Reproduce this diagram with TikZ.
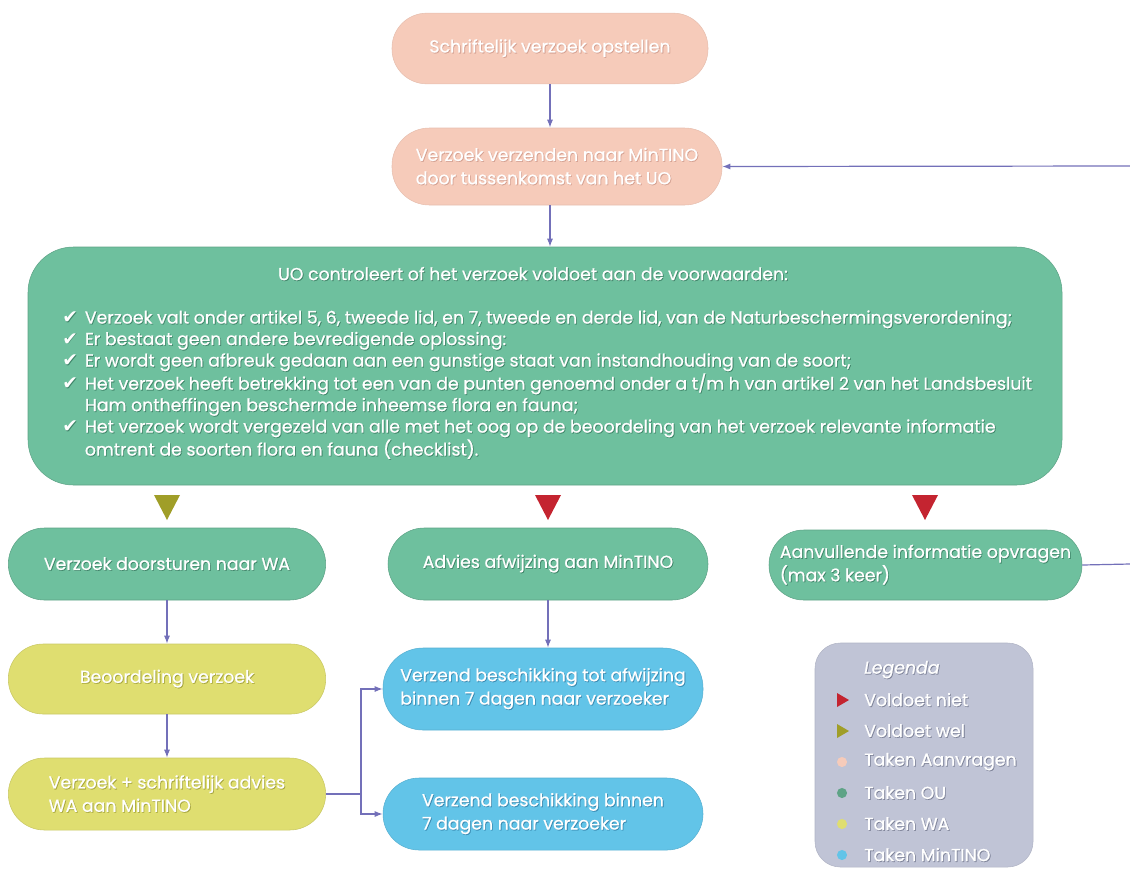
\documentclass[tikz,border=0pt]{standalone}
\usepackage{fontspec}
\setmainfont{Poppins}[FakeStretch=1.0, FakeBold=0.9]
\newfontfamily\symfont{DejaVu Sans}
\usetikzlibrary{arrows.meta}
\definecolor{pinkbox}{RGB}{246,203,186}
\definecolor{pinkS}{RGB}{212,160,145}
\definecolor{greenbox}{RGB}{110,192,158}
\definecolor{greenS}{RGB}{62,132,104}
\definecolor{yellowbox}{RGB}{223,222,112}
\definecolor{yellowS}{RGB}{165,164,60}
\definecolor{bluebox}{RGB}{98,196,232}
\definecolor{blueS}{RGB}{55,135,175}
\definecolor{legendbox}{RGB}{192,196,214}
\definecolor{legendS}{RGB}{125,130,152}
\definecolor{arrowc}{RGB}{115,112,185}
\definecolor{redtri}{RGB}{196,36,48}
\definecolor{olivetri}{RGB}{160,158,40}
\colorlet{shadc}{black!40}
\newcommand\shd[1]{\leavevmode\rlap{\kern0.6pt\raisebox{-0.6pt}{\textcolor{shadc}{#1}}}#1}
\newcommand\ck{\makebox[17pt][l]{\symfont\fontsize{14}{14}\selectfont\textcolor{shadc}{\rlap{\kern0.6pt\raisebox{-0.6pt}{✔}}}✔}}
\newcommand\bfs{\fontsize{13}{17.5}\selectfont}
\newcommand\gfs{\fontsize{13}{16.1}\selectfont}
\tikzset{
  pbox/.style={rectangle, inner sep=0pt, text=white, align=left, font=\bfs, line width=0.4pt},
  pinkb/.style={pbox, fill=pinkbox, draw=pinkbox!94!black, execute at begin node={\colorlet{shadc}{pinkS}}},
  greenb/.style={pbox, fill=greenbox, draw=greenbox!85!black, execute at begin node={\colorlet{shadc}{greenS}}},
  yellowb/.style={pbox, fill=yellowbox, draw=yellowbox!90!black, execute at begin node={\colorlet{shadc}{yellowS}}},
  blueb/.style={pbox, fill=bluebox, draw=bluebox!90!black, execute at begin node={\colorlet{shadc}{blueS}}},
  gtext/.style={inner sep=0pt, text=white, align=left, font=\gfs, execute at begin node={\colorlet{shadc}{greenS}}},
  ltext/.style={inner sep=0pt, text=white, anchor=west, font=\bfs, execute at begin node={\colorlet{shadc}{legendS}}},
  arr/.style={draw=arrowc, line width=0.9pt, -{Latex[length=6pt,width=4.5pt]}},
  plainline/.style={draw=arrowc, line width=0.9pt},
}
\begin{document}
\begin{tikzpicture}[x=0.75pt,y=-0.75pt]
\useasboundingbox (0,0) rectangle (1130,875);
% top pink boxes
\node[pinkb, minimum width=237pt, minimum height=53pt, rounded corners=26pt] (n1) at (550,48.5) {\shd{Schriftelijk verzoek opstellen}};
\node[pinkb, minimum width=247.5pt, minimum height=57.75pt, rounded corners=28pt] (n2) at (557,166.5)
  {\shd{Verzoek verzenden naar MinTINO}\\\shd{door tussenkomst van het UO}};
% big green box
\node[greenb, minimum width=775.5pt, minimum height=178.5pt, rounded corners=34pt] (chk) at (545,366) {};
\node[gtext, align=center] (chkt) at (533,274) {\shd{UO controleert of het verzoek voldoet aan de voorwaarden:}};
\node[gtext, anchor=west] (chkl) at (62,385)
  {\ck\shd{Verzoek valt onder artikel 5, 6, tweede lid, en 7, tweede en derde lid, van de Naturbeschermingsverordening;}\\
   \ck\shd{Er bestaat geen andere bevredigende oplossing:}\\
   \ck\shd{Er wordt geen afbreuk gedaan aan een gunstige staat van instandhouding van de soort;}\\
   \ck\shd{Het verzoek heeft betrekking tot een van de punten genoemd onder a t/m h van artikel 2 van het Landsbesluit}\\
   \hspace*{17pt}\shd{Ham ontheffingen beschermde inheemse flora en fauna;}\\
   \ck\shd{Het verzoek wordt vergezeld van alle met het oog op de beoordeling van het verzoek relevante informatie}\\
   \hspace*{17pt}\shd{omtrent de soorten flora en fauna (checklist).}};
% decision triangles
\fill[olivetri] (154,495) -- (180,495) -- (167,520) -- cycle;
\fill[redtri] (535,495) -- (561,495) -- (548,520) -- cycle;
\fill[redtri] (912,495) -- (938,495) -- (925,520) -- cycle;
% row of green boxes
\node[greenb, minimum width=238pt, minimum height=54pt, rounded corners=27pt] (wa) at (167,564) {\shd{Verzoek doorsturen naar WA}};
\node[greenb, minimum width=240pt, minimum height=54pt, rounded corners=27pt] (adv) at (548,564) {\shd{Advies afwijzing aan MinTINO}};
\node[greenb, minimum width=234.75pt, minimum height=52.5pt, rounded corners=26pt] (aanv) at (925.5,565)
  {\shd{Aanvullende informatie opvragen}\\\shd{(max 3 keer)}};
% yellow boxes
\node[yellowb, minimum width=238pt, minimum height=52.5pt, rounded corners=26pt] (beo) at (167,679) {\shd{Beoordeling verzoek}};
\node[yellowb, minimum width=238pt, minimum height=54pt, rounded corners=27pt] (vza) at (167,794)
  {\shd{Verzoek + schriftelijk advies}\\\shd{WA aan MinTINO}};
% blue boxes
\node[blueb, minimum width=240pt, minimum height=61.5pt, rounded corners=30pt] (b1) at (543,689)
  {\shd{Verzend beschikking tot afwijzing}\\\shd{binnen 7 dagen naar verzoeker}};
\node[blueb, minimum width=240pt, minimum height=54pt, rounded corners=27pt] (b2) at (543,814)
  {\shd{Verzend beschikking binnen}\\\shd{7 dagen naar verzoeker}};
% legend
\node[rectangle, fill=legendbox, draw=legendbox!92!black, line width=0.4pt, minimum width=163.5pt, minimum height=168pt, rounded corners=19pt] (leg) at (924,755) {};
\node[ltext] (legt) at (864,670) {\itshape\shd{Legenda}};
\node[ltext] (l1) at (864,700) {\shd{Voldoet niet}};
\node[ltext] (l2) at (864,731) {\shd{Voldoet wel}};
\node[ltext] (l3) at (864,762) {\shd{Taken Aanvragen}};
\node[ltext] (l4) at (864,793) {\shd{Taken OU}};
\node[ltext] (l5) at (864,824) {\shd{Taken WA}};
\node[ltext] (l6) at (864,855) {\shd{Taken MinTINO}};
\fill[redtri] (837,693) -- (849,700) -- (837,707) -- cycle;
\fill[olivetri] (837,724) -- (849,731) -- (837,738) -- cycle;
\fill[pinkbox] (842,762) circle (3.8pt);
\fill[greenbox!85!black] (842,793) circle (3.8pt);
\fill[yellowbox] (842,824) circle (3.8pt);
\fill[bluebox] (842,855) circle (3.8pt);
% connectors
\coordinate (outA) at (1130,166);
\coordinate (outB) at (1130,564);
\coordinate (br) at (361,794);
\draw[arr] (n1.south) -- (n1.south |- n2.north);
\draw[arr] (n1.south |- n2.south) -- (n1.south |- chk.north);
\draw[arr] (outA) -- (n2.east);
\draw[plainline] (aanv.east) -- (outB);
\draw[arr] (wa.south) -- (beo.north);
\draw[arr] (beo.south) -- (vza.north);
\draw[arr] (adv.south) -- (adv.south |- b1.north);
\draw[plainline] (vza.east) -- (br);
\draw[arr] (br) |- (b1.west);
\draw[arr] (br) |- (b2.west);
\end{tikzpicture}
\end{document}
